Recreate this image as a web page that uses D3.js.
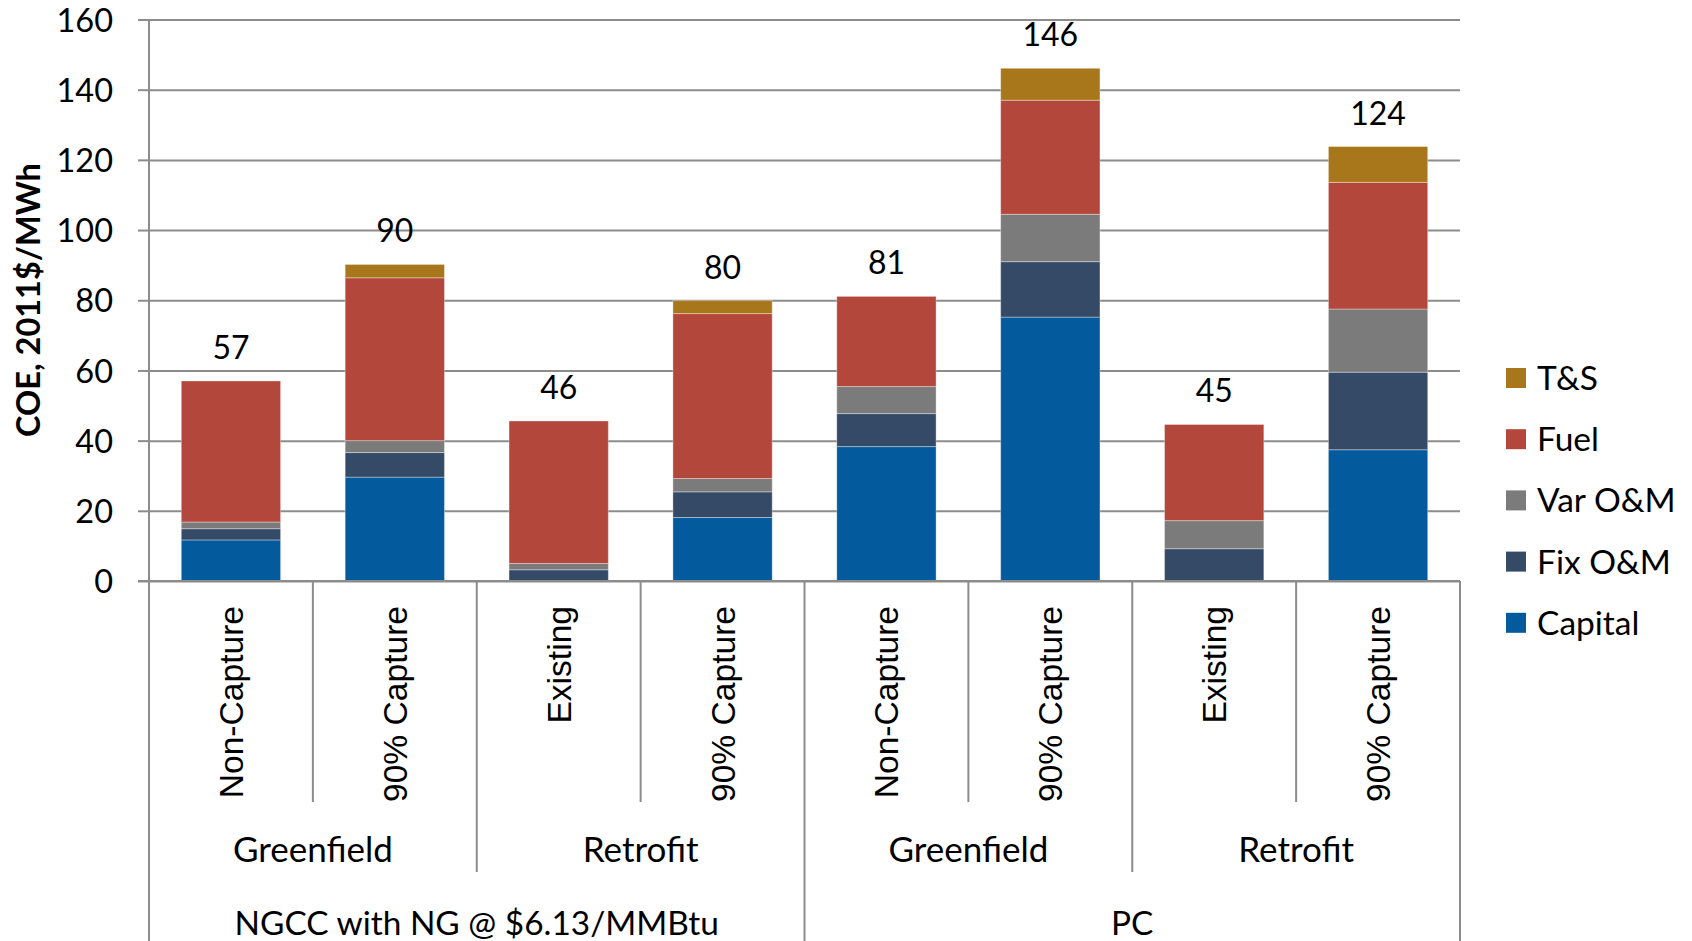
<!DOCTYPE html>
<html>
<head>
<meta charset="utf-8">
<script src="https://cdn.jsdelivr.net/npm/d3@7/dist/d3.min.js"></script>
<style>
  html, body { margin: 0; padding: 0; background: #ffffff; }
  svg { display: block; }
</style>
</head>
<body>
<svg id="chart" width="1692" height="941"></svg>
<script>
// Cost of electricity by plant type, 2011$/MWh, stacked by cost component
const categories = ["Non-Capture", "90% Capture", "Existing", "90% Capture",
                    "Non-Capture", "90% Capture", "Existing", "90% Capture"];
const midLabels = ["Greenfield", "Retrofit", "Greenfield", "Retrofit"];
const topLabels = ["NGCC with NG @ $6.13/MMBtu", "PC"];

const capital = [11.7, 29.6, 0.0, 18.1, 38.3, 75.2, 0.0, 37.4];
const fixOM   = [3.2, 7.0, 3.2, 7.3, 9.4, 15.8, 9.2, 22.1];
const varOM   = [1.9, 3.4, 1.8, 3.8, 7.7, 13.5, 8.0, 18.0];
const fuel    = [40.2, 46.4, 40.6, 47.0, 25.7, 32.5, 27.4, 36.1];
const ts      = [0.0, 3.8, 0.0, 3.7, 0.0, 9.1, 0.0, 10.2];

const seriesNames = ["Capital", "Fix O&M", "Var O&M", "Fuel", "T&S"];
const seriesColors = ["#035a9c", "#344a66", "#7b7b7b", "#b3473b", "#a8771b"];
const yTicks = [0, 20, 40, 60, 80, 100, 120, 140, 160];

const seriesValues = [capital, fixOM, varOM, fuel, ts];
const rows = categories.map((c, i) => {
  const r = { idx: i };
  seriesNames.forEach((s, k) => { r[s] = seriesValues[k][i]; });
  return r;
});
const totals = rows.map(r => d3.sum(seriesNames, s => r[s]));

const svg = d3.select("#chart");
const plotLeft = 149, plotRight = 1460, plotTop = 19.5, plotBottom = 581;

const x = d3.scaleBand()
  .domain(d3.range(categories.length))
  .range([plotLeft, plotRight])
  .paddingInner(0.394)
  .paddingOuter(0.197);
const y = d3.scaleLinear().domain([0, 160]).range([plotBottom, plotTop]);
const color = d3.scaleOrdinal().domain(seriesNames).range(seriesColors);

const gridColor = "#8c8c8c";
const tickFont = "Lato, 'Open Sans', sans-serif";

// Horizontal gridlines with tick labels
const yAxis = d3.axisLeft(y).tickValues(yTicks).tickSize(-(plotRight - plotLeft)).tickSizeOuter(0).tickPadding(36);
const yg = svg.append("g").attr("transform", `translate(${plotLeft},0)`).call(yAxis);
yg.select(".domain").remove();
yg.selectAll(".tick line").attr("stroke", gridColor).attr("stroke-width", 2);
yg.selectAll(".tick").append("line")
  .attr("x1", -11).attr("x2", 0).attr("stroke", gridColor).attr("stroke-width", 2);
yg.selectAll(".tick text")
  .attr("fill", "#000").attr("font-family", tickFont).attr("font-size", 32.5)
  .attr("dy", "0.36em");

// Stacked bars
const stacked = d3.stack().keys(seriesNames)(rows);
svg.append("g").selectAll("g")
  .data(stacked).join("g")
  .attr("fill", d => color(d.key))
  .selectAll("rect")
  .data(d => d.filter(p => p[1] - p[0] > 0))
  .join("rect")
  .attr("x", p => x(p.data.idx))
  .attr("width", x.bandwidth())
  .attr("y", p => y(p[1]))
  .attr("height", p => y(p[0]) - y(p[1]))
  .attr("stroke", "rgba(255,255,255,0.35)")
  .attr("stroke-width", 1);

// Total labels above each bar
svg.append("g").selectAll("text")
  .data(totals).join("text")
  .attr("x", (d, i) => x(i) + x.bandwidth() / 2)
  .attr("y", d => y(d) - 22)
  .attr("text-anchor", "middle")
  .attr("font-family", tickFont).attr("font-size", 32)
  .attr("fill", "#000")
  .text(d => d3.format(".0f")(d));

// Axis lines
const axisG = svg.append("g").attr("stroke", gridColor).attr("stroke-width", 2);
axisG.append("line").attr("x1", plotLeft).attr("x2", plotLeft).attr("y1", plotTop).attr("y2", 941);
axisG.append("line").attr("x1", plotLeft - 11).attr("x2", plotRight).attr("y1", plotBottom).attr("y2", plotBottom);

// Multi-level category separators
const step = x.step();
const edge = i => plotLeft + i * step;
for (let i = 1; i <= categories.length; i++) {
  let bottom;
  if (i % 4 === 0) bottom = 941;
  else if (i % 2 === 0) bottom = 872;
  else bottom = 802;
  axisG.append("line").attr("x1", edge(i)).attr("x2", edge(i)).attr("y1", plotBottom).attr("y2", bottom);
}

// Rotated category labels
svg.append("g").selectAll("text")
  .data(categories).join("text")
  .attr("transform", (d, i) => `translate(${x(i) + x.bandwidth() / 2 + 12},606) rotate(-90)`)
  .attr("text-anchor", "end")
  .attr("font-family", "'Liberation Sans', Arial, sans-serif")
  .attr("font-size", 33.6)
  .attr("fill", "#000")
  .text(d => d);

// Second-level labels
svg.append("g").selectAll("text")
  .data(midLabels).join("text")
  .attr("x", (d, i) => edge(i * 2) + step)
  .attr("y", 862)
  .attr("text-anchor", "middle")
  .attr("font-family", tickFont).attr("font-size", 35)
  .attr("fill", "#000")
  .text(d => d);

// Top-level labels
svg.append("g").selectAll("text")
  .data(topLabels).join("text")
  .attr("x", (d, i) => edge(i * 4) + step * 2)
  .attr("y", 935)
  .attr("text-anchor", "middle")
  .attr("font-family", tickFont).attr("font-size", 33.4)
  .attr("fill", "#000")
  .text(d => d);

// Y axis title
svg.append("text")
  .attr("transform", "translate(40,300) rotate(-90)")
  .attr("text-anchor", "middle")
  .attr("font-family", tickFont).attr("font-size", 32.5).attr("font-weight", "bold")
  .attr("fill", "#000")
  .text("COE, 2011$/MWh");

// Legend, listed top to bottom in reverse stacking order
const legendItems = seriesNames.slice().reverse();
const lg = svg.append("g").attr("transform", "translate(1506,378)");
const li = lg.selectAll("g").data(legendItems).join("g")
  .attr("transform", (d, i) => `translate(0,${i * 61.2})`);
li.append("rect").attr("x", 0).attr("y", -10).attr("width", 20).attr("height", 20)
  .attr("fill", d => color(d));
li.append("text").attr("x", 31).attr("y", 0).attr("dy", "0.36em")
  .attr("font-family", tickFont).attr("font-size", 33.5).attr("fill", "#000")
  .text(d => d);
</script>
</body>
</html>
